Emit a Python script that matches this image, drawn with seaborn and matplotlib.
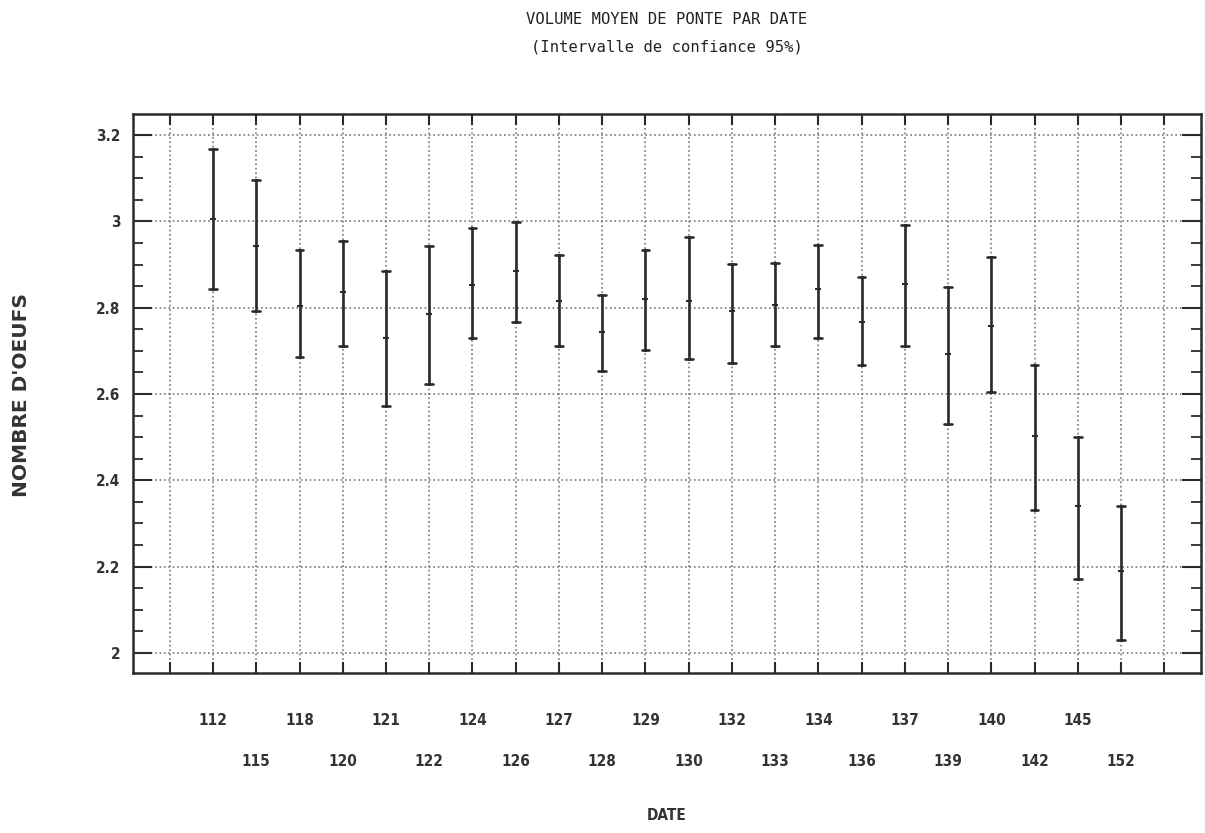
import matplotlib
matplotlib.use("Agg")
import matplotlib.pyplot as plt
import seaborn as sns
import pandas as pd
import numpy as np
from matplotlib.ticker import FixedLocator, MultipleLocator
from matplotlib.font_manager import FontProperties

# ---- data ----
dates = [112, 115, 118, 120, 121, 122, 124, 126, 127, 128, 129,
         130, 132, 133, 134, 136, 137, 139, 140, 142, 145, 152]
upper = [3.168, 3.096, 2.934, 2.954, 2.884, 2.942, 2.984, 2.998, 2.922, 2.830, 2.934,
         2.964, 2.901, 2.903, 2.946, 2.872, 2.992, 2.847, 2.917, 2.668, 2.500, 2.340]
mean = [3.005, 2.943, 2.805, 2.836, 2.730, 2.785, 2.853, 2.885, 2.816, 2.744, 2.820,
        2.816, 2.793, 2.807, 2.843, 2.767, 2.855, 2.693, 2.758, 2.503, 2.341, 2.190]
lower = [2.843, 2.792, 2.685, 2.711, 2.573, 2.623, 2.729, 2.766, 2.711, 2.653, 2.703,
         2.680, 2.672, 2.711, 2.729, 2.668, 2.711, 2.531, 2.604, 2.332, 2.171, 2.029]
y_ticks = [2.0, 2.2, 2.4, 2.6, 2.8, 3.0, 3.2]
y_labels = ["2", "2.2", "2.4", "2.6", "2.8", "3", "3.2"]

labels = [str(d) for d in dates]
rows = []
for lab, lo, m, hi in zip(labels, lower, mean, upper):
    for v in (lo, m, hi):
        rows.append({"date": lab, "val": v})
df = pd.DataFrame(rows)

sns.set_style("ticks")
plt.rcParams["font.family"] = ["DejaVu Sans"]

ink = "#2b2b2b"
fig = plt.figure(figsize=(12.05, 8.33), dpi=100)
ax = fig.add_axes([0.1104, 0.192, 0.8863, 0.6711])

sns.pointplot(data=df, x="date", y="val", order=labels,
              estimator="median",
              errorbar=lambda v: (v.min(), v.max()),
              capsize=0.18, color=ink, linestyle="none",
              marker="_", markersize=5, markeredgewidth=1.5,
              err_kws={"linewidth": 1.9}, ax=ax)

n = len(dates)
# x ticks: two staggered rows (even -> major, odd -> minor), plus border grid lines
major_pos = list(range(0, n + 1, 2))
major_lab = [labels[i] if i < n else "" for i in major_pos]
minor_pos = [-1] + list(range(1, n, 2))
minor_lab = [""] + [labels[i] for i in range(1, n, 2)]
ax.xaxis.set_major_locator(FixedLocator(major_pos))
ax.set_xticklabels(major_lab)
ax.xaxis.set_minor_locator(FixedLocator(minor_pos))
ax.set_xticklabels(minor_lab, minor=True)
ax.set_xlim(-1.85, n + 0.85)

ax.set_yticks(y_ticks)
ax.set_yticklabels(y_labels)
ax.yaxis.set_minor_locator(MultipleLocator(0.05))
ax.set_ylim(1.953, 3.249)

for t in ax.get_xticklabels() + ax.get_xticklabels(minor=True) + ax.get_yticklabels():
    t.set_fontproperties(FontProperties(family="DejaVu Sans", stretch="condensed",
                                        weight="bold", size=11))
    t.set_color("#333333")

ax.tick_params(axis="x", which="both", direction="in", length=8, width=1.5,
               top=True, bottom=True, colors=ink, labelcolor="#333333")
ax.tick_params(axis="x", which="major", pad=29)
ax.tick_params(axis="x", which="minor", pad=58)
ax.tick_params(axis="y", which="major", direction="in", length=14, width=1.5,
               left=True, right=True, pad=9, colors=ink, labelcolor="#333333")
ax.tick_params(axis="y", which="minor", direction="in", length=7, width=1.3,
               left=True, right=True, colors=ink)

ax.grid(axis="x", which="both", linestyle=":", color="#777777", linewidth=1.2)
ax.grid(axis="y", which="major", linestyle=":", color="#777777", linewidth=1.2)
ax.grid(axis="y", which="minor", visible=False)

for s in ax.spines.values():
    s.set_visible(True)
    s.set_linewidth(1.8)
    s.set_color(ink)

ax.set_xlabel("")
ax.set_ylabel("")

fig.text(0.5535, 1 - 20 / 833, "VOLUME MOYEN DE PONTE PAR DATE", ha="center", va="center",
         fontsize=11.2, family="DejaVu Sans Mono", color="#222222")
fig.text(0.5535, 1 - 47 / 833, "(Intervalle de confiance 95%)", ha="center", va="center",
         fontsize=11.2, family="DejaVu Sans Mono", color="#222222")
fig.text(22 / 1205, 1 - 395 / 833, "NOMBRE D'OEUFS", rotation=90, ha="center", va="center",
         fontsize=14.5, family="DejaVu Sans", weight="bold", color="#333333")
fig.text(0.5535, 1 - 816 / 833, "DATE", ha="center", va="center",
         fontsize=11, family="DejaVu Sans", stretch="condensed", weight="bold", color="#333333")

fig.savefig("out.png", dpi=100)
